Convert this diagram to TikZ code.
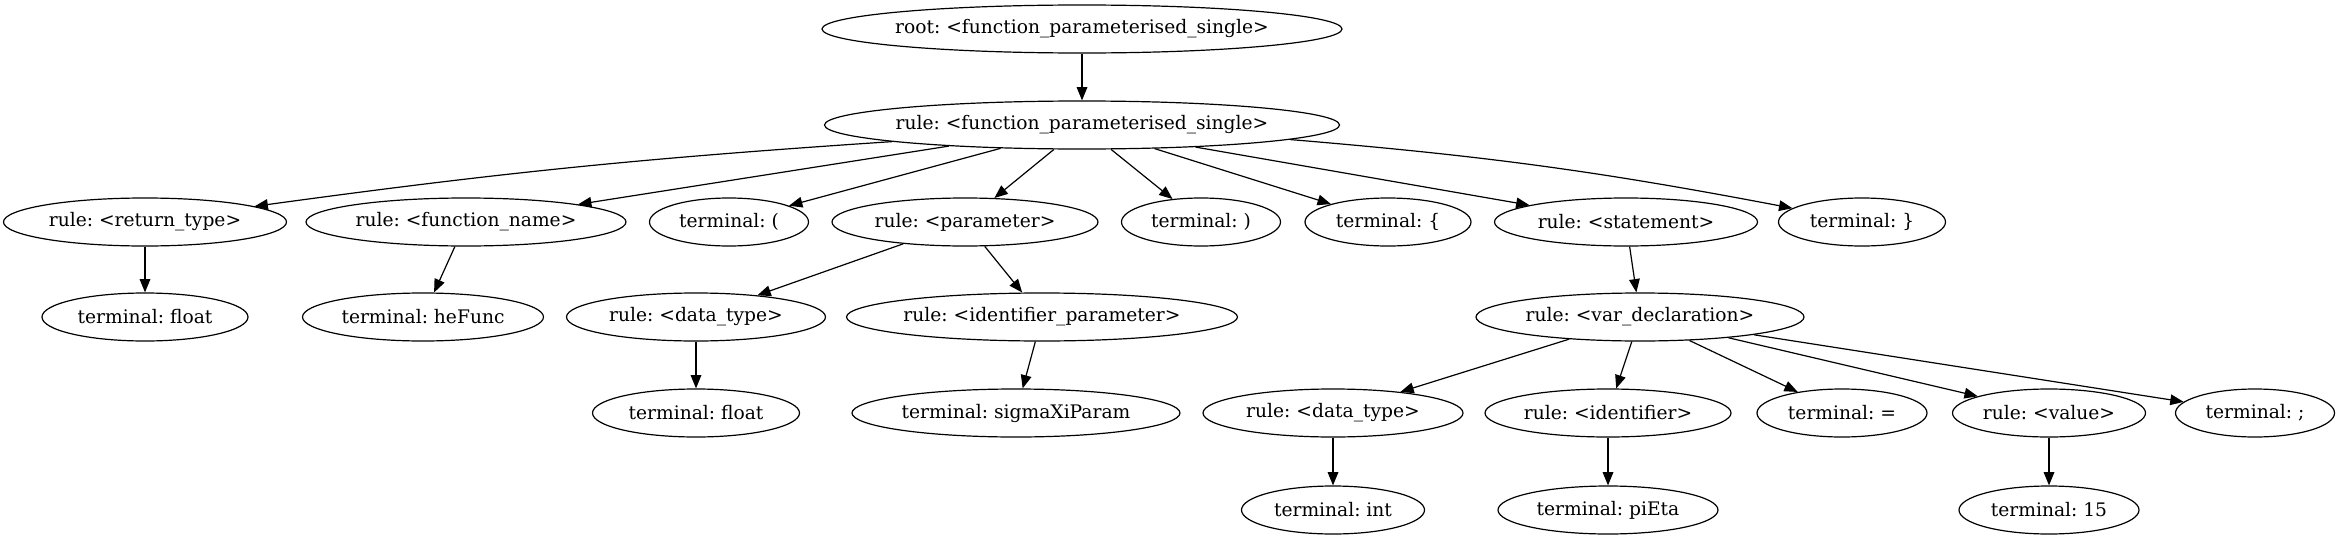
\documentclass[tikz,border=0pt]{standalone}
\usepackage{fontspec}
\setmainfont{DejaVu Serif}
\frenchspacing
\usetikzlibrary{shapes.geometric,arrows.meta}
\begin{document}
\begin{tikzpicture}[x=0.75pt,y=-0.75pt,
    pnode/.style={ellipse,draw,line width=0.9pt,inner xsep=-4pt,inner ysep=3pt,minimum height=36pt,minimum width=0.75pt*#1,font=\fontsize{14}{17}\selectfont},
    parc/.style={-{Triangle[length=10pt,width=8pt]},line width=0.9pt}]
    \useasboundingbox (0,0) rectangle (2339,539);
    % raiz
    \node[pnode=520] (root) at (1082,29) {root: <function\_parameterised\_single>};
    \node[pnode=515] (fps) at (1082,125) {rule: <function\_parameterised\_single>};
    % filhos de fps
    \node[pnode=283] (rettype) at (145,222) {rule: <return\_type>};
    \node[pnode=320] (fname) at (466,222) {rule: <function\_name>};
    \node[pnode=159] (lparen) at (729,222) {terminal: (};
    \node[pnode=266] (param) at (965,222) {rule: <parameter>};
    \node[pnode=159] (rparen) at (1201,222) {terminal: )};
    \node[pnode=166] (lbrace) at (1388,222) {terminal: \{};
    \node[pnode=263] (stmt) at (1626,222) {rule: <statement>};
    \node[pnode=167] (rbrace) at (1862,222) {terminal: \}};
    % nivel 3
    \node[pnode=206] (float1) at (145,317) {terminal: float};
    \node[pnode=241] (hefunc) at (423,317) {terminal: heFunc};
    \node[pnode=259] (dtype) at (696,317) {rule: <data\_type>};
    \node[pnode=391] (idparam) at (1042,317) {rule: <identifier\_parameter>};
    \node[pnode=328] (vardecl) at (1640,317) {rule: <var\_declaration>};
    % nivel 4
    \node[pnode=207] (float2) at (696,413) {terminal: float};
    \node[pnode=328] (sigma) at (1016,413) {terminal: sigmaXiParam};
    \node[pnode=260] (dtype2) at (1333,413) {rule: <data\_type>};
    \node[pnode=246] (ident) at (1608,413) {rule: <identifier>};
    \node[pnode=170] (equals) at (1842,413) {terminal: =};
    \node[pnode=193] (value) at (2049,413) {rule: <value>};
    \node[pnode=159] (semi) at (2255,413) {terminal: ;};
    % nivel 5
    \node[pnode=183] (int) at (1333,510) {terminal: int};
    \node[pnode=220] (pieta) at (1608,510) {terminal: piEta};
    \node[pnode=180] (fifteen) at (2049,510) {terminal: 15};
    % arestas
    \draw[parc] (root) -- (fps);
    \draw[parc] (fps.185) to[bend right=2] (rettype);
    \draw[parc] (fps.189) -- (fname);
    \draw[parc] (fps.196) -- (lparen);
    \draw[parc] (fps.221) -- (param);
    \draw[parc] (fps.320) -- (rparen);
    \draw[parc] (fps.342) -- (lbrace);
    \draw[parc] (fps.349) -- (stmt);
    \draw[parc] (fps.356) to[bend left=3] (rbrace);
    \draw[parc] (rettype) -- (float1);
    \draw[parc] (fname) -- (hefunc);
    \draw[parc] (param) -- (dtype);
    \draw[parc] (param) -- (idparam);
    \draw[parc] (dtype) -- (float2);
    \draw[parc] (idparam) -- (sigma);
    \draw[parc] (stmt) -- (vardecl);
    \draw[parc] (vardecl) -- (dtype2);
    \draw[parc] (vardecl) -- (ident);
    \draw[parc] (vardecl) -- (equals);
    \draw[parc] (vardecl) -- (value);
    \draw[parc] (vardecl) -- (semi);
    \draw[parc] (dtype2) -- (int);
    \draw[parc] (ident) -- (pieta);
    \draw[parc] (value) -- (fifteen);
\end{tikzpicture}
\end{document}
